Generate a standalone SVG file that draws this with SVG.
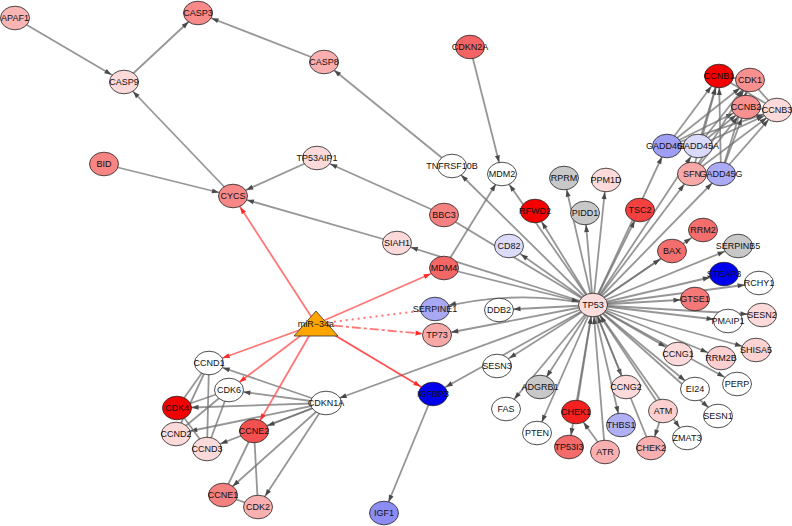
<svg xmlns="http://www.w3.org/2000/svg" width="792" height="526" viewBox="0 0 792 526">
<style>
.e{stroke:#6e6e6e;stroke-opacity:.72;stroke-width:1.8;fill:none}
.r{stroke:#ff5050;stroke-opacity:.78;stroke-width:1.8;fill:none}
.n ellipse{stroke:#222;stroke-width:.8}
.n text{font-family:"Liberation Sans",Arial,Helvetica,sans-serif;font-size:9px;text-anchor:middle;fill:#111}
</style>
<defs>
<marker id="a12" viewBox="0 0 7 5" refX="19" refY="2.5" markerWidth="7" markerHeight="5" markerUnits="userSpaceOnUse" orient="auto" overflow="visible"><path d="M0,0L7,2.5L0,5z" fill="#4a4a4a"/></marker>
<marker id="a13" viewBox="0 0 7 5" refX="20" refY="2.5" markerWidth="7" markerHeight="5" markerUnits="userSpaceOnUse" orient="auto" overflow="visible"><path d="M0,0L7,2.5L0,5z" fill="#4a4a4a"/></marker>
<marker id="a14" viewBox="0 0 7 5" refX="21.5" refY="2.5" markerWidth="7" markerHeight="5" markerUnits="userSpaceOnUse" orient="auto" overflow="visible"><path d="M0,0L7,2.5L0,5z" fill="#4a4a4a"/></marker>
<marker id="r12" viewBox="0 0 7 5" refX="19" refY="2.5" markerWidth="7" markerHeight="5" markerUnits="userSpaceOnUse" orient="auto" overflow="visible"><path d="M0,0L7,2.5L0,5z" fill="#ff2a2a"/></marker>
<marker id="r13" viewBox="0 0 7 5" refX="20" refY="2.5" markerWidth="7" markerHeight="5" markerUnits="userSpaceOnUse" orient="auto" overflow="visible"><path d="M0,0L7,2.5L0,5z" fill="#ff2a2a"/></marker>
<marker id="r14" viewBox="0 0 7 5" refX="21.5" refY="2.5" markerWidth="7" markerHeight="5" markerUnits="userSpaceOnUse" orient="auto" overflow="visible"><path d="M0,0L7,2.5L0,5z" fill="#ff2a2a"/></marker>
</defs>
<rect width="792" height="526" fill="#fff"/>
<g id="connectors">
<line class="e" x1="15" y1="18" x2="124" y2="82" marker-end="url(#a14)"/>
<line class="e" x1="124" y1="82" x2="198" y2="13" marker-end="url(#a13)"/>
<line class="e" x1="324" y1="62" x2="198" y2="13" marker-end="url(#a14)"/>
<line class="e" x1="233" y1="196" x2="124" y2="82" marker-end="url(#a13)"/>
<line class="e" x1="104" y1="164" x2="233" y2="196" marker-end="url(#a14)"/>
<line class="e" x1="317" y1="158" x2="233" y2="196" marker-end="url(#a14)"/>
<line class="e" x1="397" y1="243" x2="233" y2="196" marker-end="url(#a14)"/>
<line class="e" x1="452" y1="166" x2="324" y2="62" marker-end="url(#a13)"/>
<line class="e" x1="444" y1="215" x2="317" y2="158" marker-end="url(#a14)"/>
<line class="e" x1="470" y1="47" x2="502" y2="174" marker-end="url(#a12)"/>
<line class="e" x1="444" y1="268" x2="502" y2="174" marker-end="url(#a12)"/>
<line class="e" x1="593" y1="305" x2="452" y2="166" marker-end="url(#a13)"/>
<line class="e" x1="593" y1="305" x2="502" y2="174" marker-end="url(#a13)"/>
<line class="e" x1="593" y1="305" x2="444" y2="215"/>
<line class="e" x1="593" y1="305" x2="397" y2="243" marker-end="url(#a14)"/>
<line class="e" x1="593" y1="305" x2="509" y2="246" marker-end="url(#a14)"/>
<line class="e" x1="593" y1="305" x2="535" y2="211" marker-end="url(#a13)"/>
<line class="e" x1="593" y1="305" x2="585" y2="213" marker-end="url(#a12)"/>
<line class="e" x1="593" y1="305" x2="564" y2="178" marker-end="url(#a12)"/>
<line class="e" x1="593" y1="305" x2="606" y2="180" marker-end="url(#a12)"/>
<line class="e" x1="593" y1="305" x2="640" y2="210" marker-end="url(#a12)"/>
<line class="e" x1="593" y1="305" x2="667" y2="146" marker-end="url(#a12)"/>
<line class="e" x1="593" y1="305" x2="698" y2="146" marker-end="url(#a13)"/>
<line class="e" x1="593" y1="305" x2="692" y2="174" marker-end="url(#a13)"/>
<line class="e" x1="593" y1="305" x2="721" y2="174" marker-end="url(#a13)"/>
<line class="e" x1="667" y1="146" x2="719" y2="76" marker-end="url(#a13)"/>
<line class="e" x1="667" y1="146" x2="750" y2="80" marker-end="url(#a13)"/>
<line class="e" x1="667" y1="146" x2="746" y2="107" marker-end="url(#a14)"/>
<line class="e" x1="667" y1="146" x2="777" y2="110" marker-end="url(#a14)"/>
<line class="e" x1="698" y1="146" x2="719" y2="76" marker-end="url(#a12)"/>
<line class="e" x1="698" y1="146" x2="750" y2="80" marker-end="url(#a13)"/>
<line class="e" x1="698" y1="146" x2="746" y2="107" marker-end="url(#a13)"/>
<line class="e" x1="698" y1="146" x2="777" y2="110" marker-end="url(#a14)"/>
<line class="e" x1="692" y1="174" x2="719" y2="76" marker-end="url(#a12)"/>
<line class="e" x1="692" y1="174" x2="750" y2="80" marker-end="url(#a12)"/>
<line class="e" x1="692" y1="174" x2="746" y2="107" marker-end="url(#a13)"/>
<line class="e" x1="692" y1="174" x2="777" y2="110" marker-end="url(#a13)"/>
<line class="e" x1="721" y1="174" x2="719" y2="76" marker-end="url(#a12)"/>
<line class="e" x1="721" y1="174" x2="750" y2="80" marker-end="url(#a12)"/>
<line class="e" x1="721" y1="174" x2="746" y2="107" marker-end="url(#a12)"/>
<line class="e" x1="721" y1="174" x2="777" y2="110" marker-end="url(#a13)"/>
<line class="e" x1="719" y1="76" x2="750" y2="80"/>
<line class="e" x1="719" y1="76" x2="777" y2="110"/>
<line class="e" x1="750" y1="80" x2="777" y2="110"/>
<line class="e" x1="746" y1="107" x2="777" y2="110"/>
<line class="e" x1="593" y1="305" x2="703" y2="230" marker-end="url(#a14)"/>
<line class="e" x1="593" y1="305" x2="672" y2="251" marker-end="url(#a14)"/>
<line class="e" x1="593" y1="305" x2="738" y2="246" marker-end="url(#a14)"/>
<line class="e" x1="593" y1="305" x2="724" y2="274" marker-end="url(#a14)"/>
<line class="e" x1="593" y1="305" x2="759" y2="283" marker-end="url(#a14)"/>
<line class="e" x1="593" y1="305" x2="695" y2="299" marker-end="url(#a14)"/>
<line class="e" x1="593" y1="305" x2="762" y2="315" marker-end="url(#a14)"/>
<line class="e" x1="593" y1="305" x2="728" y2="321" marker-end="url(#a14)"/>
<line class="e" x1="593" y1="305" x2="756" y2="350" marker-end="url(#a14)"/>
<line class="e" x1="593" y1="305" x2="678" y2="354" marker-end="url(#a14)"/>
<line class="e" x1="593" y1="305" x2="721" y2="358" marker-end="url(#a14)"/>
<line class="e" x1="593" y1="305" x2="737" y2="384" marker-end="url(#a14)"/>
<line class="e" x1="593" y1="305" x2="695" y2="389" marker-end="url(#a13)"/>
<line class="e" x1="593" y1="305" x2="718" y2="416" marker-end="url(#a13)"/>
<line class="e" x1="593" y1="305" x2="687" y2="438" marker-end="url(#a13)"/>
<line class="e" x1="593" y1="305" x2="626" y2="387" marker-end="url(#a12)"/>
<line class="e" x1="593" y1="305" x2="621" y2="425" marker-end="url(#a12)"/>
<line class="e" x1="593" y1="305" x2="569" y2="447" marker-end="url(#a12)"/>
<line class="e" x1="593" y1="305" x2="537" y2="433" marker-end="url(#a12)"/>
<line class="e" x1="593" y1="305" x2="506" y2="409" marker-end="url(#a13)"/>
<line class="e" x1="593" y1="305" x2="540" y2="387" marker-end="url(#a12)"/>
<line class="e" x1="593" y1="305" x2="497" y2="366" marker-end="url(#a14)"/>
<line class="e" x1="593" y1="305" x2="433" y2="394" marker-end="url(#a14)"/>
<line class="e" x1="593" y1="305" x2="437" y2="335" marker-end="url(#a14)"/>
<path class="e" d="M593,305 Q515,288 435,309" marker-end="url(#a14)"/>
<line class="e" x1="593" y1="305" x2="499" y2="310" marker-end="url(#a14)"/>
<line class="e" x1="593" y1="305" x2="326" y2="403" marker-end="url(#a14)"/>
<line class="e" x1="444" y1="268" x2="593" y2="305" marker-end="url(#a14)"/>
<line class="e" x1="663" y1="411" x2="593" y2="305" marker-end="url(#a13)"/>
<line class="e" x1="605" y1="452" x2="593" y2="305" marker-end="url(#a12)"/>
<line class="e" x1="576" y1="412" x2="593" y2="305" marker-end="url(#a12)"/>
<line class="e" x1="651" y1="448" x2="593" y2="305" marker-end="url(#a12)"/>
<line class="e" x1="605" y1="452" x2="576" y2="412" marker-end="url(#a13)"/>
<line class="e" x1="663" y1="411" x2="651" y2="448" marker-end="url(#a12)"/>
<line class="e" x1="433" y1="394" x2="384" y2="513" marker-end="url(#a12)"/>
<line class="e" x1="326" y1="403" x2="209" y2="363" marker-end="url(#a14)"/>
<line class="e" x1="326" y1="403" x2="229" y2="390" marker-end="url(#a14)"/>
<line class="e" x1="326" y1="403" x2="177" y2="408" marker-end="url(#a14)"/>
<line class="e" x1="326" y1="403" x2="176" y2="434" marker-end="url(#a14)"/>
<line class="e" x1="326" y1="403" x2="207" y2="449" marker-end="url(#a14)"/>
<line class="e" x1="326" y1="403" x2="254" y2="431" marker-end="url(#a14)"/>
<line class="e" x1="326" y1="403" x2="223" y2="495" marker-end="url(#a13)"/>
<line class="e" x1="326" y1="403" x2="258" y2="507" marker-end="url(#a13)"/>
<line class="e" x1="209" y1="363" x2="177" y2="408"/>
<line class="e" x1="209" y1="363" x2="176" y2="434"/>
<line class="e" x1="209" y1="363" x2="207" y2="449"/>
<line class="e" x1="229" y1="390" x2="177" y2="408"/>
<line class="e" x1="229" y1="390" x2="176" y2="434"/>
<line class="e" x1="229" y1="390" x2="207" y2="449"/>
<line class="e" x1="177" y1="408" x2="207" y2="449"/>
<line class="e" x1="254" y1="431" x2="223" y2="495"/>
<line class="e" x1="254" y1="431" x2="258" y2="507"/>
<line class="e" x1="223" y1="495" x2="258" y2="507"/>
<line class="r" x1="316" y1="324" x2="233" y2="196" marker-end="url(#r13)"/>
<line class="r" x1="316" y1="324" x2="444" y2="268" marker-end="url(#r14)"/>
<line class="r" x1="316" y1="324" x2="435" y2="309" stroke-dasharray="2,4"/>
<line class="r" x1="316" y1="324" x2="437" y2="335" stroke-dasharray="9,3,3,3" marker-end="url(#r14)"/>
<line class="r" x1="316" y1="324" x2="209" y2="363" marker-end="url(#r14)"/>
<line class="r" x1="316" y1="324" x2="229" y2="390" marker-end="url(#r13)"/>
<line class="r" x1="316" y1="324" x2="254" y2="431" marker-end="url(#r12)"/>
<line class="r" x1="316" y1="324" x2="433" y2="394" style="stroke:#ff2020" marker-end="url(#r14)"/>
</g>
<g id="n-APAF1" class="n"><ellipse cx="15" cy="18" rx="14.5" ry="11.8" fill="#f9b4b4"/><text x="15" y="21">APAF1</text></g>
<g id="n-CASP3" class="n"><ellipse cx="198" cy="13" rx="14.5" ry="11.8" fill="#f88a8a"/><text x="198" y="16">CASP3</text></g>
<g id="n-CASP9" class="n"><ellipse cx="124" cy="82" rx="14.5" ry="11.8" fill="#fcdada"/><text x="124" y="85">CASP9</text></g>
<g id="n-BID" class="n"><ellipse cx="104" cy="164" rx="14.5" ry="11.8" fill="#f88484"/><text x="104" y="167">BID</text></g>
<g id="n-CASP8" class="n"><ellipse cx="324" cy="62" rx="14.5" ry="11.8" fill="#f9afaf"/><text x="324" y="65">CASP8</text></g>
<g id="n-CDKN2A" class="n"><ellipse cx="470" cy="47" rx="14.5" ry="11.8" fill="#f56464"/><text x="470" y="50">CDKN2A</text></g>
<g id="n-TP53AIP1" class="n"><ellipse cx="317" cy="158" rx="14.5" ry="11.8" fill="#fcdada"/><text x="317" y="161">TP53AIP1</text></g>
<g id="n-TNFRSF10B" class="n"><ellipse cx="452" cy="166" rx="14.5" ry="11.8" fill="#fff"/><text x="452" y="169">TNFRSF10B</text></g>
<g id="n-MDM2" class="n"><ellipse cx="502" cy="174" rx="14.5" ry="11.8" fill="#fff"/><text x="502" y="177">MDM2</text></g>
<g id="n-CYCS" class="n"><ellipse cx="233" cy="196" rx="14.5" ry="11.8" fill="#f88888"/><text x="233" y="199">CYCS</text></g>
<g id="n-BBC3" class="n"><ellipse cx="444" cy="215" rx="14.5" ry="11.8" fill="#f78080"/><text x="444" y="218">BBC3</text></g>
<g id="n-SIAH1" class="n"><ellipse cx="397" cy="243" rx="14.5" ry="11.8" fill="#fcdada"/><text x="397" y="246">SIAH1</text></g>
<g id="n-MDM4" class="n"><ellipse cx="444" cy="268" rx="14.5" ry="11.8" fill="#f56666"/><text x="444" y="271">MDM4</text></g>
<g id="n-CD82" class="n"><ellipse cx="509" cy="246" rx="14.5" ry="11.8" fill="#dcdcfa"/><text x="509" y="249">CD82</text></g>
<g id="n-SERPINE1" class="n"><ellipse cx="435" cy="309" rx="14.5" ry="11.8" fill="#a8a8f5"/><text x="435" y="312">SERPINE1</text></g>
<g id="n-TP73" class="n"><ellipse cx="437" cy="335" rx="14.5" ry="11.8" fill="#f9a8a8"/><text x="437" y="338">TP73</text></g>
<g id="n-DDB2" class="n"><ellipse cx="499" cy="310" rx="14.5" ry="11.8" fill="#fff"/><text x="499" y="313">DDB2</text></g>
<g id="n-RFWD2" class="n"><ellipse cx="535" cy="211" rx="14.5" ry="11.8" fill="#f50000"/><text x="535" y="214">RFWD2</text></g>
<g id="n-PIDD1" class="n"><ellipse cx="585" cy="213" rx="14.5" ry="11.8" fill="#c8c8c8"/><text x="585" y="216">PIDD1</text></g>
<g id="n-RPRM" class="n"><ellipse cx="564" cy="178" rx="14.5" ry="11.8" fill="#c8c8c8"/><text x="564" y="181">RPRM</text></g>
<g id="n-PPM1D" class="n"><ellipse cx="606" cy="180" rx="14.5" ry="11.8" fill="#fcdada"/><text x="606" y="183">PPM1D</text></g>
<g id="n-TSC2" class="n"><ellipse cx="640" cy="210" rx="14.5" ry="11.8" fill="#f54040"/><text x="640" y="213">TSC2</text></g>
<g id="n-GADD45B" class="n"><ellipse cx="667" cy="146" rx="14.5" ry="11.8" fill="#9e9ef5"/><text x="667" y="149">GADD45B</text></g>
<g id="n-GADD45A" class="n"><ellipse cx="698" cy="146" rx="14.5" ry="11.8" fill="#dadafa"/><text x="698" y="149">GADD45A</text></g>
<g id="n-SFN" class="n"><ellipse cx="692" cy="174" rx="14.5" ry="11.8" fill="#f9a8a8"/><text x="692" y="177">SFN</text></g>
<g id="n-GADD45G" class="n"><ellipse cx="721" cy="174" rx="14.5" ry="11.8" fill="#ababf5"/><text x="721" y="177">GADD45G</text></g>
<g id="n-CCNB1" class="n"><ellipse cx="719" cy="76" rx="14.5" ry="11.8" fill="#f50000"/><text x="719" y="79">CCNB1</text></g>
<g id="n-CDK1" class="n"><ellipse cx="750" cy="80" rx="14.5" ry="11.8" fill="#f99090"/><text x="750" y="83">CDK1</text></g>
<g id="n-CCNB2" class="n"><ellipse cx="746" cy="107" rx="14.5" ry="11.8" fill="#f79090"/><text x="746" y="110">CCNB2</text></g>
<g id="n-CCNB3" class="n"><ellipse cx="777" cy="110" rx="14.5" ry="11.8" fill="#fcdada"/><text x="777" y="113">CCNB3</text></g>
<g id="n-RRM2" class="n"><ellipse cx="703" cy="230" rx="14.5" ry="11.8" fill="#f56e6e"/><text x="703" y="233">RRM2</text></g>
<g id="n-BAX" class="n"><ellipse cx="672" cy="251" rx="14.5" ry="11.8" fill="#f56e6e"/><text x="672" y="254">BAX</text></g>
<g id="n-SERPINB5" class="n"><ellipse cx="738" cy="246" rx="14.5" ry="11.8" fill="#c8c8c8"/><text x="738" y="249">SERPINB5</text></g>
<g id="n-STEAP3" class="n"><ellipse cx="724" cy="274" rx="14.5" ry="11.8" fill="#0000f0"/><text x="724" y="277">STEAP3</text></g>
<g id="n-RCHY1" class="n"><ellipse cx="759" cy="283" rx="14.5" ry="11.8" fill="#fff"/><text x="759" y="286">RCHY1</text></g>
<g id="n-GTSE1" class="n"><ellipse cx="695" cy="299" rx="14.5" ry="11.8" fill="#f57878"/><text x="695" y="302">GTSE1</text></g>
<g id="n-SESN2" class="n"><ellipse cx="762" cy="315" rx="14.5" ry="11.8" fill="#fcdada"/><text x="762" y="318">SESN2</text></g>
<g id="n-PMAIP1" class="n"><ellipse cx="728" cy="321" rx="14.5" ry="11.8" fill="#fff"/><text x="728" y="324">PMAIP1</text></g>
<g id="n-SHISA5" class="n"><ellipse cx="756" cy="350" rx="14.5" ry="11.8" fill="#fcd2d2"/><text x="756" y="353">SHISA5</text></g>
<g id="n-CCNG1" class="n"><ellipse cx="678" cy="354" rx="14.5" ry="11.8" fill="#fcdada"/><text x="678" y="357">CCNG1</text></g>
<g id="n-RRM2B" class="n"><ellipse cx="721" cy="358" rx="14.5" ry="11.8" fill="#fcd0d0"/><text x="721" y="361">RRM2B</text></g>
<g id="n-PERP" class="n"><ellipse cx="737" cy="384" rx="14.5" ry="11.8" fill="#fff"/><text x="737" y="387">PERP</text></g>
<g id="n-EI24" class="n"><ellipse cx="695" cy="389" rx="14.5" ry="11.8" fill="#fff"/><text x="695" y="392">EI24</text></g>
<g id="n-SESN1" class="n"><ellipse cx="718" cy="416" rx="14.5" ry="11.8" fill="#fff"/><text x="718" y="419">SESN1</text></g>
<g id="n-CCNG2" class="n"><ellipse cx="626" cy="387" rx="14.5" ry="11.8" fill="#fcdada"/><text x="626" y="390">CCNG2</text></g>
<g id="n-ATM" class="n"><ellipse cx="663" cy="411" rx="14.5" ry="11.8" fill="#fcd0d0"/><text x="663" y="414">ATM</text></g>
<g id="n-THBS1" class="n"><ellipse cx="621" cy="425" rx="14.5" ry="11.8" fill="#b0b0f7"/><text x="621" y="428">THBS1</text></g>
<g id="n-ZMAT3" class="n"><ellipse cx="687" cy="438" rx="14.5" ry="11.8" fill="#fff"/><text x="687" y="441">ZMAT3</text></g>
<g id="n-CHEK2" class="n"><ellipse cx="651" cy="448" rx="14.5" ry="11.8" fill="#fab0b0"/><text x="651" y="451">CHEK2</text></g>
<g id="n-ATR" class="n"><ellipse cx="605" cy="452" rx="14.5" ry="11.8" fill="#fab0b0"/><text x="605" y="455">ATR</text></g>
<g id="n-TP53I3" class="n"><ellipse cx="569" cy="447" rx="14.5" ry="11.8" fill="#f56a6a"/><text x="569" y="450">TP53I3</text></g>
<g id="n-CHEK1" class="n"><ellipse cx="576" cy="412" rx="14.5" ry="11.8" fill="#f52020"/><text x="576" y="415">CHEK1</text></g>
<g id="n-PTEN" class="n"><ellipse cx="537" cy="433" rx="14.5" ry="11.8" fill="#fff"/><text x="537" y="436">PTEN</text></g>
<g id="n-FAS" class="n"><ellipse cx="506" cy="409" rx="14.5" ry="11.8" fill="#fff"/><text x="506" y="412">FAS</text></g>
<g id="n-ADGRB1" class="n"><ellipse cx="540" cy="387" rx="14.5" ry="11.8" fill="#c8c8c8"/><text x="540" y="390">ADGRB1</text></g>
<g id="n-SESN3" class="n"><ellipse cx="497" cy="366" rx="14.5" ry="11.8" fill="#fff"/><text x="497" y="369">SESN3</text></g>
<g id="n-IGFBP3" class="n"><ellipse cx="433" cy="394" rx="14.5" ry="11.8" fill="#0000ee"/><text x="433" y="397">IGFBP3</text></g>
<g id="n-IGF1" class="n"><ellipse cx="384" cy="513" rx="14.5" ry="11.8" fill="#8c8cf5"/><text x="384" y="516">IGF1</text></g>
<g id="n-CDKN1A" class="n"><ellipse cx="326" cy="403" rx="15.5" ry="11.8" fill="#fff"/><text x="326" y="406">CDKN1A</text></g>
<g id="n-CCND1" class="n"><ellipse cx="209" cy="363" rx="14.5" ry="11.8" fill="#fff"/><text x="209" y="366">CCND1</text></g>
<g id="n-CDK6" class="n"><ellipse cx="229" cy="390" rx="14.5" ry="11.8" fill="#fff"/><text x="229" y="393">CDK6</text></g>
<g id="n-CDK4" class="n"><ellipse cx="177" cy="408" rx="14.5" ry="11.8" fill="#f50000"/><text x="177" y="411">CDK4</text></g>
<g id="n-CCND2" class="n"><ellipse cx="176" cy="434" rx="14.5" ry="11.8" fill="#fcdada"/><text x="176" y="437">CCND2</text></g>
<g id="n-CCND3" class="n"><ellipse cx="207" cy="449" rx="14.5" ry="11.8" fill="#fcdada"/><text x="207" y="452">CCND3</text></g>
<g id="n-CCNE2" class="n"><ellipse cx="254" cy="431" rx="14.5" ry="11.8" fill="#f55050"/><text x="254" y="434">CCNE2</text></g>
<g id="n-CCNE1" class="n"><ellipse cx="223" cy="495" rx="14.5" ry="11.8" fill="#f58080"/><text x="223" y="498">CCNE1</text></g>
<g id="n-CDK2" class="n"><ellipse cx="258" cy="507" rx="14.5" ry="11.8" fill="#f9b0b0"/><text x="258" y="510">CDK2</text></g>
<g id="n-TP53" class="n"><ellipse cx="593" cy="305" rx="14.5" ry="11.8" fill="#fcdddd"/><text x="593" y="308">TP53</text></g>
<g id="n-miR-34a" class="n"><polygon points="316,311 294,336 338,336" fill="#ffa500" stroke="#333" stroke-width=".8"/><text x="316" y="327">miR−34a</text></g>
</svg>
